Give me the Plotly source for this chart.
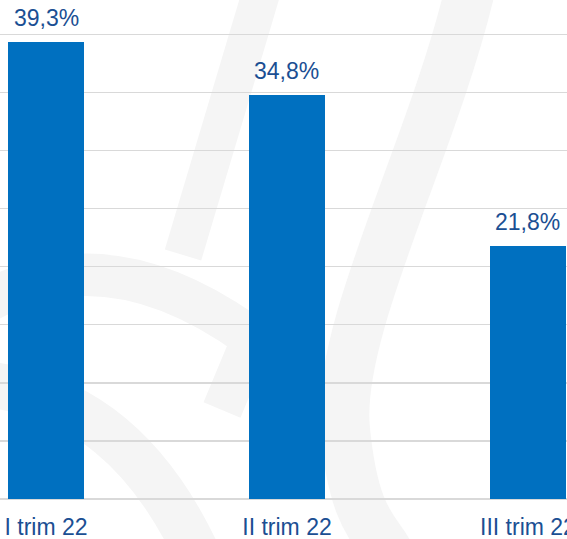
import plotly.graph_objects as go

categories = ["I trim 22", "II trim 22", "III trim 22"]
values = [39.3, 34.8, 21.8]
labels = [f"{v:.1f}".replace(".", ",") + "%" for v in values]

BAR = "#0070C0"
TXT = "#1B4F93"
GRID = "#D9D9D9"
WM = "#F5F5F5"
FONT = "Liberation Sans, Arial, sans-serif"

W, H, B = 567, 539, 40
PH = H - B


def pth(points, cmd):
    # decorative watermark path, pixel -> paper
    out = []
    for c, pts in zip(cmd, points):
        out.append(c + " " + " ".join(f"{x / W:.4f},{1 - y / PH:.4f}" for x, y in pts))
    return " ".join(out)


fig = go.Figure()
fig.add_trace(go.Bar(
    x=list(range(len(categories))), y=values,
    marker=dict(color=BAR, line=dict(width=0)),
    width=0.315, hoverinfo="skip",
))

for i, (v, t) in enumerate(zip(values, labels)):
    fig.add_annotation(x=i, y=v, text=t, showarrow=False, xanchor="center",
                       yanchor="bottom", yshift=9,
                       font=dict(family=FONT, size=23, color=TXT))

# faint background watermark strokes
wm_paths = [
    (["M", "C", "S"], [[(470, -10)], [(432, 150), (335, 330), (345, 430)], [(380, 530), (392, 560)]], 50),
    (["M", "L"], [[(262, -10)], [(183, 255)]], 38),
    (["M", "Q"], [[(-10, 300)], [(110, 235), (252, 338)]], 42),
    (["M", "L"], [[(252, 338)], [(222, 410)]], 40),
    (["M", "C"], [[(-10, 385)], [(80, 395), (150, 450), (200, 560)]], 46),
]
for cmds, pts, w in wm_paths:
    fig.add_shape(type="path", path=pth(pts, cmds), xref="paper", yref="paper",
                  line=dict(color=WM, width=w), layer="below")

fig.update_layout(
    width=W, height=H,
    margin=dict(l=0, r=0, t=0, b=B, pad=0, autoexpand=False),
    paper_bgcolor="white", plot_bgcolor="white",
    showlegend=False,
    bargap=0,
    xaxis=dict(
        tickmode="array", tickvals=list(range(len(categories))), ticktext=categories,
        range=[-0.191, 2.162], showgrid=False, zeroline=False, showline=False,
        ticks="", tickfont=dict(family=FONT, size=23, color=TXT),
        ticklabelstandoff=12, ticklabeloverflow="allow", automargin=False,
    ),
    yaxis=dict(
        range=[0, 42.95], dtick=5, showgrid=True, gridcolor=GRID, gridwidth=1.4,
        zeroline=True, zerolinecolor=GRID, zerolinewidth=1.4,
        showticklabels=False, ticks="", showline=False, automargin=False,
    ),
)

fig.write_html("out.html", config={"displayModeBar": False, "staticPlot": True},
               post_script="document.body.style.margin='0';document.body.style.overflow='hidden';")
